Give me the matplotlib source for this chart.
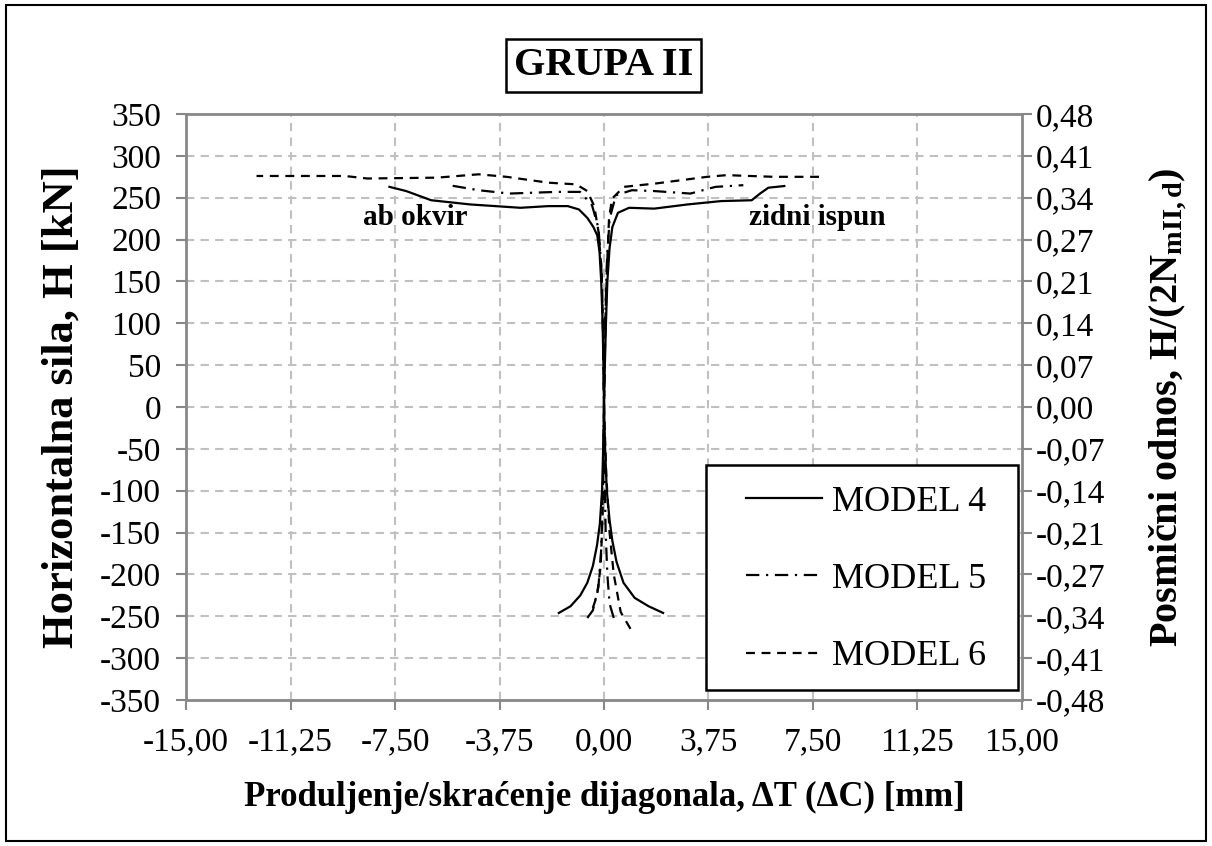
import numpy as np
import matplotlib
matplotlib.use("Agg")
import matplotlib.pyplot as plt
from matplotlib.patches import Rectangle

plt.rcParams['font.family'] = ['Liberation Serif', 'DejaVu Serif']
plt.rcParams['mathtext.fontset'] = 'custom'
plt.rcParams['mathtext.rm'] = 'Liberation Serif'
plt.rcParams['mathtext.bf'] = 'Liberation Serif:bold'
plt.rcParams['mathtext.it'] = 'Liberation Serif:italic'

# ---- data: diagonal deformation [mm] vs horizontal force [kN] ----
# "ab okvir" branches (negative deformation) and "zidni ispun" branches (positive)
m4_frame_x = [-1.62, -1.2, -0.85, -0.6, -0.4, -0.25, -0.15, -0.07, -0.03, 0.0, -0.02, -0.05, -0.1,
              -0.16, -0.24, -0.38, -0.6, -0.9, -1.3, -2.0, -3.0, -4.8, -6.2, -7.1, -7.7]
m4_frame_h = [-246, -238, -225, -210, -190, -165, -140, -100, -50, 0, 50, 100, 150,
              185, 205, 215, 226, 236, 240, 240, 238, 242, 247, 258, 263]
m4_wall_x = [2.12, 1.6, 1.1, 0.7, 0.45, 0.3, 0.2, 0.1, 0.04, 0.0, 0.03, 0.07, 0.12,
             0.2, 0.3, 0.5, 0.9, 1.8, 3.0, 4.2, 5.3, 5.6, 5.9, 6.47]
m4_wall_h = [-246, -238, -228, -210, -185, -160, -135, -100, -50, 0, 50, 100, 150,
             190, 215, 232, 238, 237, 242, 246, 247, 255, 262, 264]

m5_frame_x = [-0.6, -0.4, -0.2, -0.1, -0.04, 0.0, -0.04, -0.1, -0.2, -0.43, -0.86, -1.7, -3.4, -4.5, -5.56]
m5_frame_h = [-252, -243, -215, -170, -100, 0, 100, 170, 214, 241, 257, 257, 255, 259, 265]
m5_wall_x = [0.35, 0.2, 0.12, 0.06, 0.02, 0.0, 0.04, 0.1, 0.2, 0.43, 1.0, 1.8, 3.1, 4.0, 5.0]
m5_wall_h = [-252, -235, -200, -150, -80, 0, 100, 170, 225, 253, 259, 258, 255, 263, 265]

m6_frame_x = [-0.4, -0.25, -0.12, -0.05, -0.02, 0.0, -0.03, -0.08, -0.2, -0.35, -0.6, -1.0, -2.0,
              -3.5, -4.5, -6.0, -8.5, -9.3, -12.47]
m6_frame_h = [-240, -225, -190, -130, -60, 0, 80, 160, 210, 240, 258, 266, 268,
              275, 278, 274, 273, 276, 276]
m6_wall_x = [0.95, 0.6, 0.35, 0.2, 0.08, 0.0, 0.04, 0.1, 0.18, 0.29, 0.71, 1.85, 3.7, 4.4, 6.1, 7.84]
m6_wall_h = [-265, -245, -200, -150, -80, 0, 80, 160, 225, 249, 263, 267, 275, 277, 275, 275]

x_ticks = [-15.0, -11.25, -7.5, -3.75, 0.0, 3.75, 7.5, 11.25, 15.0]
y_ticks = list(range(-350, 351, 50))
ratio_max = 0.48
labels = ["MODEL 4", "MODEL 5", "MODEL 6"]


def comma(v, nd):
    return f"{v:.{nd}f}".replace(".", ",")


fig = plt.figure(figsize=(12.12, 8.46), dpi=100)
ax = fig.add_axes([0.1535, 0.1726, 0.6897, 0.6926])

grid_kw = dict(color='#c0c0c0', lw=1.5, ls=(0, (4, 3)), zorder=0)
for xv in x_ticks[1:-1]:
    ax.axvline(xv, **grid_kw)
for yv in y_ticks[1:-1]:
    ax.axhline(yv, **grid_kw)

ls5 = (0, (6, 3, 1, 3))
ls6 = (0, (4, 3))
ax.plot(m4_frame_x, m4_frame_h, color='black', lw=1.6, ls='-', label=labels[0])
ax.plot(m4_wall_x, m4_wall_h, color='black', lw=1.6, ls='-')
ax.plot(m5_frame_x, m5_frame_h, color='black', lw=1.6, ls=ls5, label=labels[1])
ax.plot(m5_wall_x, m5_wall_h, color='black', lw=1.6, ls=ls5)
ax.plot(m6_frame_x, m6_frame_h, color='black', lw=1.6, ls=ls6, label=labels[2])
ax.plot(m6_wall_x, m6_wall_h, color='black', lw=1.6, ls=ls6)

ax.set_xlim(-15, 15)
ax.set_ylim(-350, 350)
ax.set_xticks(x_ticks)
ax.set_xticklabels([comma(v, 2) for v in x_ticks])
ax.set_yticks(y_ticks)
ax.set_yticklabels([str(v) for v in y_ticks])
ax.tick_params(axis='both', direction='out', length=7, width=1.5, color='#888888',
               labelsize=24)
ax.tick_params(axis='x', pad=12)
ax.tick_params(axis='y', pad=11)
for sp in ax.spines.values():
    sp.set_color('#888888')
    sp.set_linewidth(2)

ax.set_xlabel("Produljenje/skraćenje dijagonala, ΔT (ΔC) [mm]", fontsize=25,
              fontweight='bold')
ax.xaxis.set_label_coords(0.5, -0.139)
ax.set_ylabel("Horizontalna sila, H [kN]", fontsize=32, fontweight='bold')
ax.yaxis.set_label_coords(-0.1244, 0.5)

ax2 = ax.twinx()
ax2.set_ylim(-ratio_max, ratio_max)
r_ticks = [v * ratio_max / 350 for v in y_ticks]
ax2.set_yticks(r_ticks)
ax2.set_yticklabels([comma(v, 2) if abs(v) > 1e-9 else "0,00" for v in r_ticks])
ax2.tick_params(axis='y', direction='out', length=7, width=1.5, color='#888888',
                labelsize=24, pad=3)
for sp in ax2.spines.values():
    sp.set_visible(False)
ax2.set_ylabel(r"Posmični odnos, H/(2N$_{\mathbf{mII,d}}$)", fontsize=29,
               fontweight='bold')
ax2.yaxis.set_label_coords(1.1507, 0.5)

ax.text(-6.76, 226, "ab okvir", fontsize=21, fontweight='bold', ha='center', va='center')
ax.text(7.66, 226, "zidni ispun", fontsize=21, fontweight='bold', ha='center', va='center')

# legend box drawn as a plain rectangle, entries placed inside it
ax.add_patch(Rectangle((0.622, 0.017), 0.373, 0.384, transform=ax.transAxes,
                       fc='white', ec='black', lw=1.8, zorder=4))
leg = ax.legend(loc='upper left', bbox_to_anchor=(0.67, 0.366),
                fontsize=26, frameon=False, handlelength=2.1,
                labelspacing=1.22, borderpad=0, handletextpad=0.28, borderaxespad=0)
leg.set_zorder(5)

fig.text(0.498, 0.923, "GRUPA II", fontsize=29, fontweight='bold', ha='center', va='center',
         bbox=dict(boxstyle='square,pad=0.2', fc='white', ec='black', lw=1.8))

fig.patches.append(Rectangle((0.005, 0.006), 0.99, 0.988, transform=fig.transFigure,
                             fill=False, ec='black', lw=1.5))

fig.savefig("out.png", dpi=100)
